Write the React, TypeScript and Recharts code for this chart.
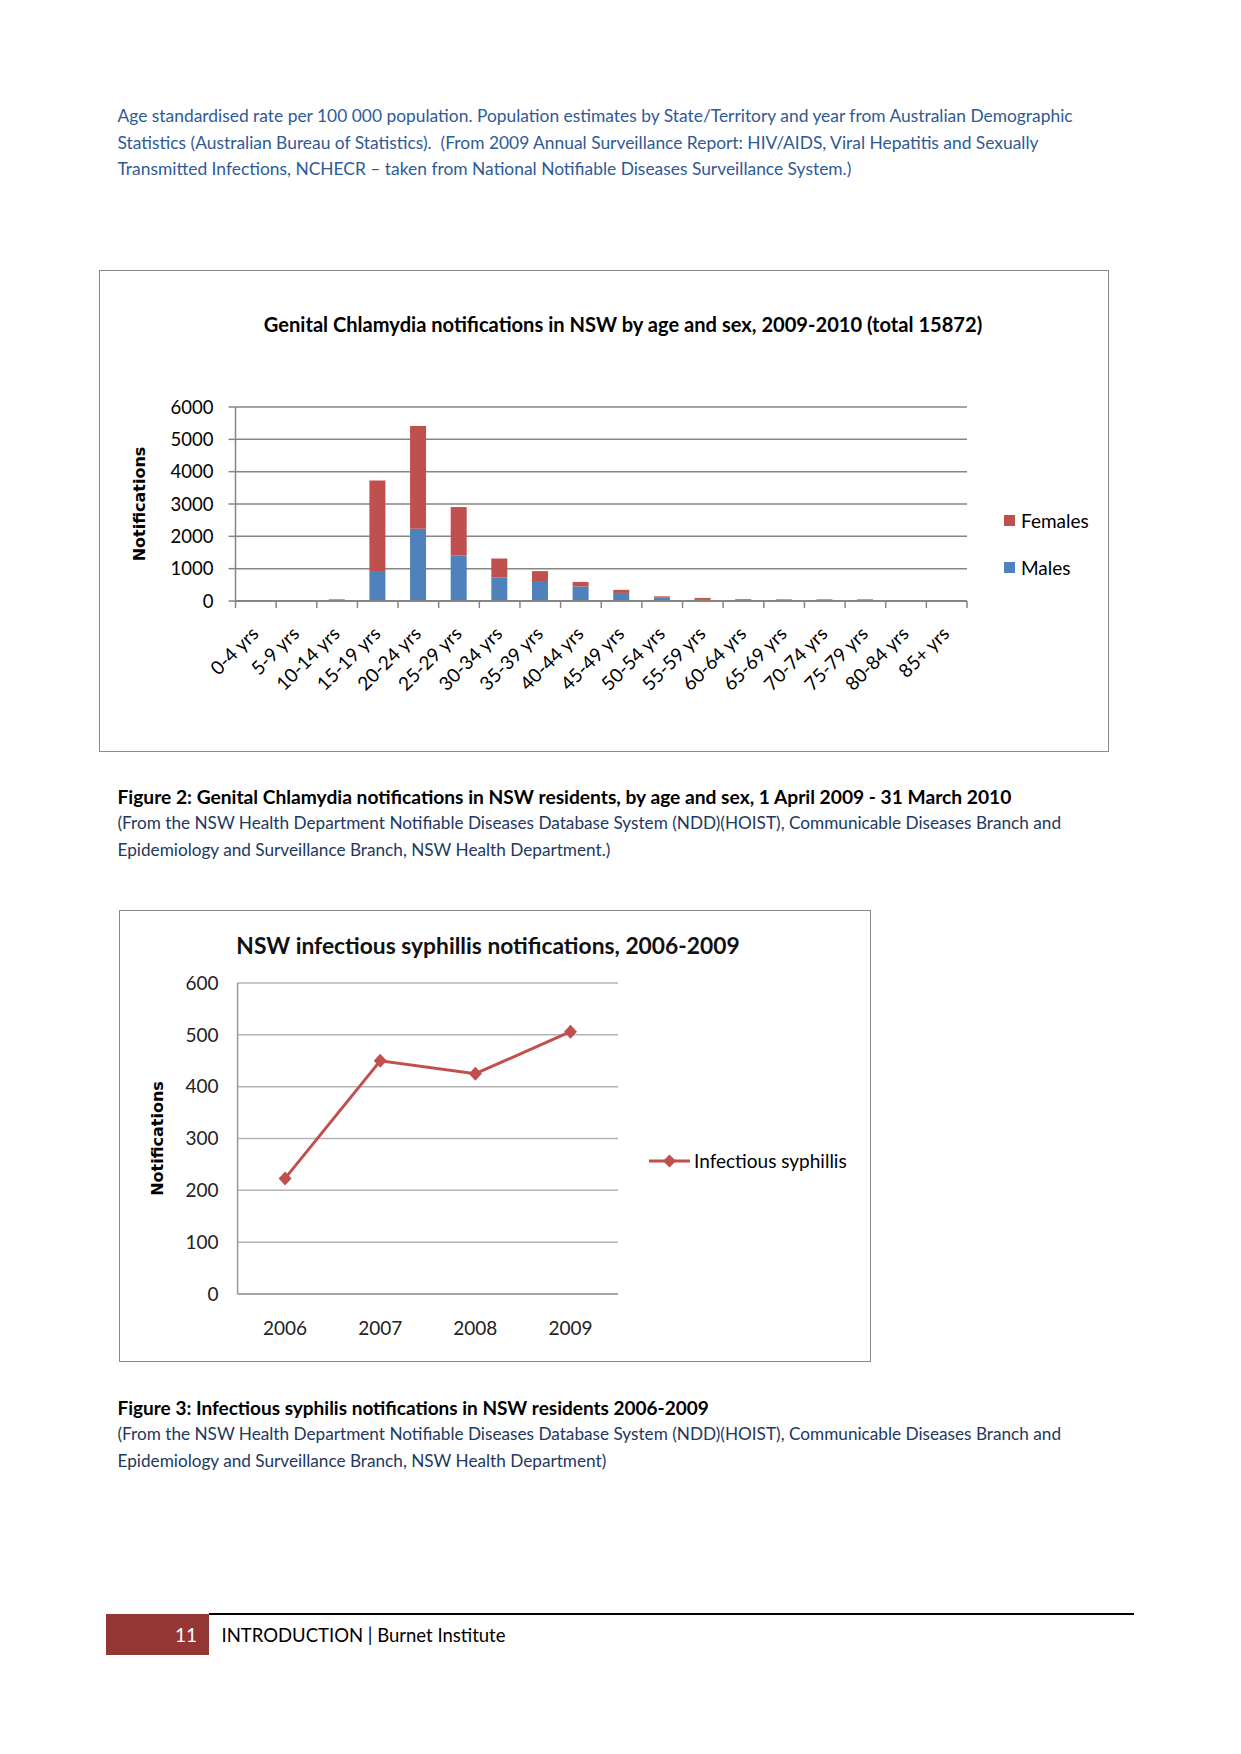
import { BarChart, Bar, LineChart, Line, XAxis, YAxis, CartesianGrid, Legend } from 'recharts'

const AGE_GROUPS = [
  '0-4 yrs', '5-9 yrs', '10-14 yrs', '15-19 yrs', '20-24 yrs', '25-29 yrs',
  '30-34 yrs', '35-39 yrs', '40-44 yrs', '45-49 yrs', '50-54 yrs', '55-59 yrs',
  '60-64 yrs', '65-69 yrs', '70-74 yrs', '75-79 yrs', '80-84 yrs', '85+ yrs',
]
const MALES = [0, 0, 5, 930, 2235, 1412, 724, 590, 450, 250, 115, 60, 15, 10, 10, 10, 0, 0]
const FEMALES = [0, 0, 45, 2795, 3175, 1493, 590, 335, 140, 95, 30, 35, 40, 40, 40, 40, 0, 0]
const CHLAMYDIA_TICKS = [0, 1000, 2000, 3000, 4000, 5000, 6000]

const YEARS = ['2006', '2007', '2008', '2009']
const SYPHILIS = [223, 450, 425, 506]
const SYPHILIS_TICKS = [0, 100, 200, 300, 400, 500, 600]

const RED = '#C0504D'
const BLUE = '#4F81BD'
const GRID = '#868686'
const FONT = 'Lato, "Open Sans", sans-serif'
const TEXT_BLUE = '#2F5A96'
const TEXT_NAVY = '#22385E'

// chart 1 frame
const C1_W = 1010
const C1_H = 482
const C1_MARGIN = { top: 137, right: 142, bottom: 51, left: 66.5 }
const C1_YAXIS_W = 70
const C1_BAND = (C1_W - C1_MARGIN.left - C1_MARGIN.right - C1_YAXIS_W) / AGE_GROUPS.length

const chlamydiaData = AGE_GROUPS.map((age, i) => ({ age, males: MALES[i], females: FEMALES[i] }))
const syphilisData = YEARS.map((year, i) => ({ year, cases: SYPHILIS[i] }))

function TextLine({ x, y, size, color = '#000', bold = false, children }: any) {
  return (
    <div
      style={{
        position: 'absolute',
        left: x,
        top: y - size,
        height: size * 2,
        lineHeight: `${size * 2}px`,
        fontSize: size,
        fontFamily: FONT,
        fontWeight: bold ? 700 : 400,
        color,
        whiteSpace: 'pre',
      }}
    >
      {children}
    </div>
  )
}

function AgeTick(props: any) {
  const { x, y, payload, index } = props
  const half = C1_BAND / 2
  const ax = x + 4
  const ay = y + 34
  return (
    <g>
      <line x1={x - half} x2={x - half} y1={y} y2={y + 7} stroke={GRID} strokeWidth={1.5} />
      {index === AGE_GROUPS.length - 1 && (
        <line x1={x + half} x2={x + half} y1={y} y2={y + 7} stroke={GRID} strokeWidth={1.5} />
      )}
      <text
        x={ax}
        y={ay}
        textAnchor="end"
        transform={`rotate(-45 ${ax} ${ay})`}
        fontSize={19}
        fontFamily={FONT}
        fill="#000"
      >
        {payload.value}
      </text>
    </g>
  )
}

function YLabel({ viewBox, offset }: any) {
  const x = viewBox.x + offset
  const y = viewBox.y + viewBox.height / 2
  return (
    <text
      x={x}
      y={y}
      textAnchor="middle"
      dominantBaseline="central"
      transform={`rotate(-90 ${x} ${y})`}
      fontFamily='"DejaVu Sans", sans-serif'
      fontWeight={700}
      fontSize={16}
      fill="#000"
    >
      Notifications
    </text>
  )
}

function SexLegend({ payload }: any) {
  const items = [...(payload ?? [])].sort((a: any, b: any) => (a.value === 'Females' ? -1 : b.value === 'Females' ? 1 : 0))
  return (
    <div>
      {items.map((it: any) => (
        <div key={it.value} style={{ display: 'flex', alignItems: 'center', height: 24, marginBottom: 22.6 }}>
          <span style={{ width: 11, height: 11, background: it.color, marginRight: 6, display: 'inline-block' }} />
          <span style={{ fontFamily: FONT, fontSize: 19, color: '#000' }}>{it.value}</span>
        </div>
      ))}
    </div>
  )
}

function SyphilisLegend({ payload }: any) {
  return (
    <div>
      {(payload ?? []).map((it: any) => (
        <div key={it.value} style={{ display: 'flex', alignItems: 'center', height: 24 }}>
          <svg width={41} height={14} style={{ marginRight: 4 }}>
            <line x1={0} x2={41} y1={7} y2={7} stroke={it.color} strokeWidth={3} />
            <polygon points="20.5,0.5 27,7 20.5,13.5 14,7" fill={it.color} />
          </svg>
          <span style={{ fontFamily: FONT, fontSize: 19, color: '#000' }}>{it.value}</span>
        </div>
      ))}
    </div>
  )
}

function Diamond(props: any) {
  const { cx, cy, index } = props
  return (
    <polygon
      key={index}
      points={`${cx},${cy - 7} ${cx + 6.5},${cy} ${cx},${cy + 7} ${cx - 6.5},${cy}`}
      fill={RED}
    />
  )
}

function ChlamydiaChart() {
  return (
    <div style={{ position: 'absolute', left: 99, top: 270, width: C1_W, height: C1_H }}>
      <div
        style={{
          position: 'absolute', inset: 0, border: '1.5px solid #8a8a8a', boxSizing: 'border-box',
        }}
      />
      <BarChart width={C1_W} height={C1_H} data={chlamydiaData} margin={C1_MARGIN}>
        <CartesianGrid vertical={false} stroke={GRID} strokeWidth={1.5} />
        <XAxis
          dataKey="age"
          interval={0}
          height={100}
          tick={<AgeTick />}
          tickLine={false}
          tickSize={0}
          tickMargin={0}
          axisLine={{ stroke: GRID, strokeWidth: 2 }}
        />
        <YAxis
          width={C1_YAXIS_W}
          domain={[0, 6000]}
          ticks={CHLAMYDIA_TICKS}
          interval={0}
          tickSize={7}
          tickMargin={15}
          tickLine={{ stroke: GRID, strokeWidth: 1.5 }}
          axisLine={{ stroke: GRID, strokeWidth: 1.5 }}
          tick={{ fontSize: 18.5, fontFamily: FONT, fill: '#000' }}
          label={{ content: <YLabel />, offset: -26 }}
        />
        <Legend
          layout="horizontal"
          align="center"
          verticalAlign="middle"
          content={<SexLegend />}
          wrapperStyle={{ left: 905, top: 238.7, width: 100 }}
        />
        <Bar dataKey="males" name="Males" stackId="a" fill={BLUE} barSize={16} isAnimationActive={false} />
        <Bar dataKey="females" name="Females" stackId="a" fill={RED} barSize={16} isAnimationActive={false} />
      </BarChart>
      <div
        style={{
          position: 'absolute', left: 24, width: 1000, top: 53.5 - 15, height: 30, lineHeight: '30px',
          textAlign: 'center', fontFamily: FONT, fontWeight: 700, fontSize: 20.1, color: '#000', whiteSpace: 'nowrap',
        }}
      >
        Genital Chlamydia notifications in NSW by age and sex, 2009-2010 (total 15872)
      </div>
    </div>
  )
}

function SyphilisChart() {
  return (
    <div style={{ position: 'absolute', left: 119, top: 910, width: 752, height: 452 }}>
      <div
        style={{
          position: 'absolute', inset: 0, border: '1.5px solid #8a8a8a', boxSizing: 'border-box',
        }}
      />
      <LineChart width={752} height={452} data={syphilisData} margin={{ top: 73, right: 253, bottom: 8, left: 58.6 }}>
        <CartesianGrid vertical={false} stroke="#B4B4B4" strokeWidth={1.5} />
        <XAxis
          dataKey="year"
          interval={0}
          height={60}
          padding={{ left: 47.5, right: 47.5 }}
          tickLine={false}
          tickSize={0}
          tickMargin={27.5}
          axisLine={{ stroke: '#9a9a9a', strokeWidth: 1.5 }}
          tick={{ fontSize: 19, fontFamily: FONT, fill: '#222' }}
        />
        <YAxis
          width={60}
          domain={[0, 600]}
          ticks={SYPHILIS_TICKS}
          interval={0}
          tickLine={false}
          tickSize={0}
          tickMargin={19}
          axisLine={{ stroke: '#9a9a9a', strokeWidth: 1.5 }}
          tick={{ fontSize: 19, fontFamily: FONT, fill: '#222' }}
          label={{ content: <YLabel />, offset: -20 }}
        />
        <Legend
          layout="horizontal"
          align="center"
          verticalAlign="middle"
          content={<SyphilisLegend />}
          wrapperStyle={{ left: 530, top: 238.7, width: 220 }}
        />
        <Line
          dataKey="cases"
          name="Infectious syphillis"
          stroke={RED}
          strokeWidth={3}
          dot={(p: any) => <Diamond key={p.index} {...p} />}
          activeDot={false}
          isAnimationActive={false}
        />
      </LineChart>
      <div
        style={{
          position: 'absolute', left: 488 - 119 - 400, width: 800, top: 34.5 - 16, height: 32, lineHeight: '32px',
          textAlign: 'center', fontFamily: FONT, fontWeight: 700, fontSize: 22.8, color: '#111', whiteSpace: 'nowrap',
        }}
      >
        NSW infectious syphillis notifications, 2006-2009
      </div>
    </div>
  )
}

export default function App() {
  return (
    <div style={{ position: 'absolute', left: 0, top: 0, width: 1241, height: 1754, background: '#fff', overflow: 'hidden' }}>
      <TextLine x={117.5} y={116.4} size={17.4} color={TEXT_BLUE}>
        Age standardised rate per 100 000 population. Population estimates by State/Territory and year from Australian Demographic
      </TextLine>
      <TextLine x={117.5} y={143.2} size={17.4} color={TEXT_BLUE}>
        {'Statistics (Australian Bureau of Statistics).  (From 2009 Annual Surveillance Report: HIV/AIDS, Viral Hepatitis and Sexually'}
      </TextLine>
      <TextLine x={117.5} y={169} size={17.4} color={TEXT_BLUE}>
        Transmitted Infections, NCHECR – taken from National Notifiable Diseases Surveillance System.)
      </TextLine>

      <ChlamydiaChart />

      <TextLine x={117.5} y={796.7} size={19.2} bold>
        Figure 2: Genital Chlamydia notifications in NSW residents, by age and sex, 1 April 2009 - 31 March 2010
      </TextLine>
      <TextLine x={117.5} y={823.6} size={17.2} color={TEXT_NAVY}>
        (From the NSW Health Department Notifiable Diseases Database System (NDD)(HOIST), Communicable Diseases Branch and
      </TextLine>
      <TextLine x={117.5} y={850.4} size={17.2} color={TEXT_NAVY}>
        Epidemiology and Surveillance Branch, NSW Health Department.)
      </TextLine>

      <SyphilisChart />

      <TextLine x={117.5} y={1407.7} size={19} bold>
        Figure 3: Infectious syphilis notifications in NSW residents 2006-2009
      </TextLine>
      <TextLine x={117.5} y={1434.5} size={17.2} color={TEXT_NAVY}>
        (From the NSW Health Department Notifiable Diseases Database System (NDD)(HOIST), Communicable Diseases Branch and
      </TextLine>
      <TextLine x={117.5} y={1461.4} size={17.2} color={TEXT_NAVY}>
        Epidemiology and Surveillance Branch, NSW Health Department)
      </TextLine>

      <div style={{ position: 'absolute', left: 106, top: 1613.5, width: 103, height: 41.5, background: '#943634' }} />
      <div style={{ position: 'absolute', left: 209, top: 1613, width: 925, height: 1.5, background: '#000' }} />
      <div
        style={{
          position: 'absolute', left: 106, top: 1613.5, width: 91, height: 41.5, lineHeight: '41.5px',
          textAlign: 'right', color: '#fff', fontFamily: FONT, fontSize: 19,
        }}
      >
        11
      </div>
      <TextLine x={221.5} y={1635} size={18.5}>
        INTRODUCTION | Burnet Institute
      </TextLine>
    </div>
  )
}
